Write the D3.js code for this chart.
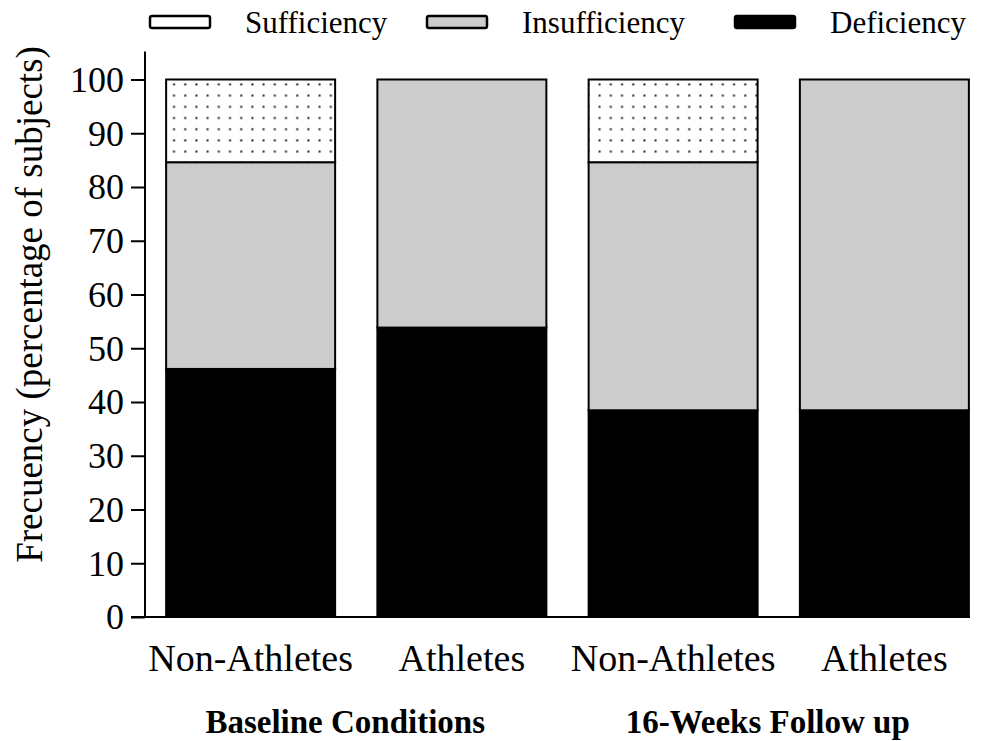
<!DOCTYPE html>
<html><head><meta charset="utf-8">
<script src="https://cdn.jsdelivr.net/npm/d3@7"></script>
<style>body{margin:0;background:#fff}svg{display:block}</style>
</head><body><svg id="c" width="990" height="741"></svg>
<script>
const categories = ["Non-Athletes","Athletes","Non-Athletes","Athletes"];
const groups = ["Baseline Conditions","16-Weeks Follow up"];
const deficiency = [46.15, 53.85, 38.46, 38.46];
const insufficiency = [38.46, 46.15, 46.15, 61.54];
const sufficiency = [15.39, 0, 15.39, 0];
const seriesNames = ["Sufficiency","Insufficiency","Deficiency"];
const yTicks = [0,10,20,30,40,50,60,70,80,90,100];

const FONT = '"Liberation Serif"';
const svg = d3.select("#c");
const defs = svg.append("defs");
const pat = defs.append("pattern").attr("id","dots").attr("patternUnits","userSpaceOnUse")
  .attr("width",11.2).attr("height",11.2);
pat.append("rect").attr("width",11.2).attr("height",11.2).attr("fill","#fff");
pat.append("rect").attr("x",5).attr("y",5).attr("width",2).attr("height",2).attr("fill","#222");

const fills = {Sufficiency:"url(#dots)", Insufficiency:"#cccccc", Deficiency:"#000"};

const x = d3.scaleBand().domain(d3.range(categories.length)).range([145, 990]).paddingInner(0.2).paddingOuter(0.1);
const y = d3.scaleLinear().domain([0,100]).range([617, 79.5]);

const rows = categories.map((c,i)=>({i, Deficiency:deficiency[i], Insufficiency:insufficiency[i], Sufficiency:sufficiency[i]}));
const stack = d3.stack().keys(["Deficiency","Insufficiency","Sufficiency"])(rows);

stack.forEach(layer=>{
  svg.append("g").selectAll("rect").data(layer.filter(d=>d[1]-d[0]>0)).enter().append("rect")
    .attr("x",d=>x(d.data.i)).attr("width",x.bandwidth())
    .attr("y",d=>y(d[1])).attr("height",d=>y(d[0])-y(d[1]))
    .attr("fill",fills[layer.key]).attr("stroke","#000").attr("stroke-width",2);
});

// y axis
const ya = svg.append("g").attr("transform","translate(145,0)")
  .call(d3.axisLeft(y).tickValues(yTicks).tickSize(14).tickPadding(7));
ya.attr("font-family",null);
ya.select(".domain").attr("stroke-width",2).attr("d",`M0,${y(100)-28}V${y(0)}`);
ya.selectAll(".tick line").attr("stroke-width",2);
ya.selectAll(".tick text").style("font-family",FONT).style("font-size","36px").attr("dy","0.33em");

// x axis
const xa = svg.append("g").attr("transform",`translate(0,${y(0)})`)
  .call(d3.axisBottom(x).tickFormat(i=>categories[i]).tickSize(0).tickPadding(27));
xa.attr("font-family",null);
xa.select(".domain").attr("stroke-width",2).attr("d",`M131,0H970`);
xa.selectAll(".tick text").style("font-family",FONT).style("font-size","38px");

// group labels
groups.forEach((g,k)=>{
  const cx = (x(2*k) + x(2*k+1) + x.bandwidth())/2 - 11;
  svg.append("text").attr("x",cx).attr("y",733).attr("text-anchor","middle")
    .style("font-family",FONT).style("font-size","33px").style("font-weight","bold").text(g);
});

// y label
svg.append("text").attr("transform","translate(42,304.5) rotate(-90)").attr("text-anchor","middle")
  .style("font-family",FONT).style("font-size","37px").text("Frecuency (percentage of subjects)");

// legend
const legX = [150, 427, 735];
seriesNames.forEach((s,k)=>{
  const lg = svg.append("g").attr("transform",`translate(${legX[k]},16)`);
  lg.append("rect").attr("width",60).attr("height",12).attr("rx",2)
    .attr("fill", s==="Sufficiency" ? "#fff" : fills[s]).attr("stroke","#000").attr("stroke-width",2.5);
  lg.append("text").attr("x",95).attr("y",6).attr("dy","0.35em")
    .style("font-family",FONT).style("font-size","31px").text(s);
});
</script></body></html>
